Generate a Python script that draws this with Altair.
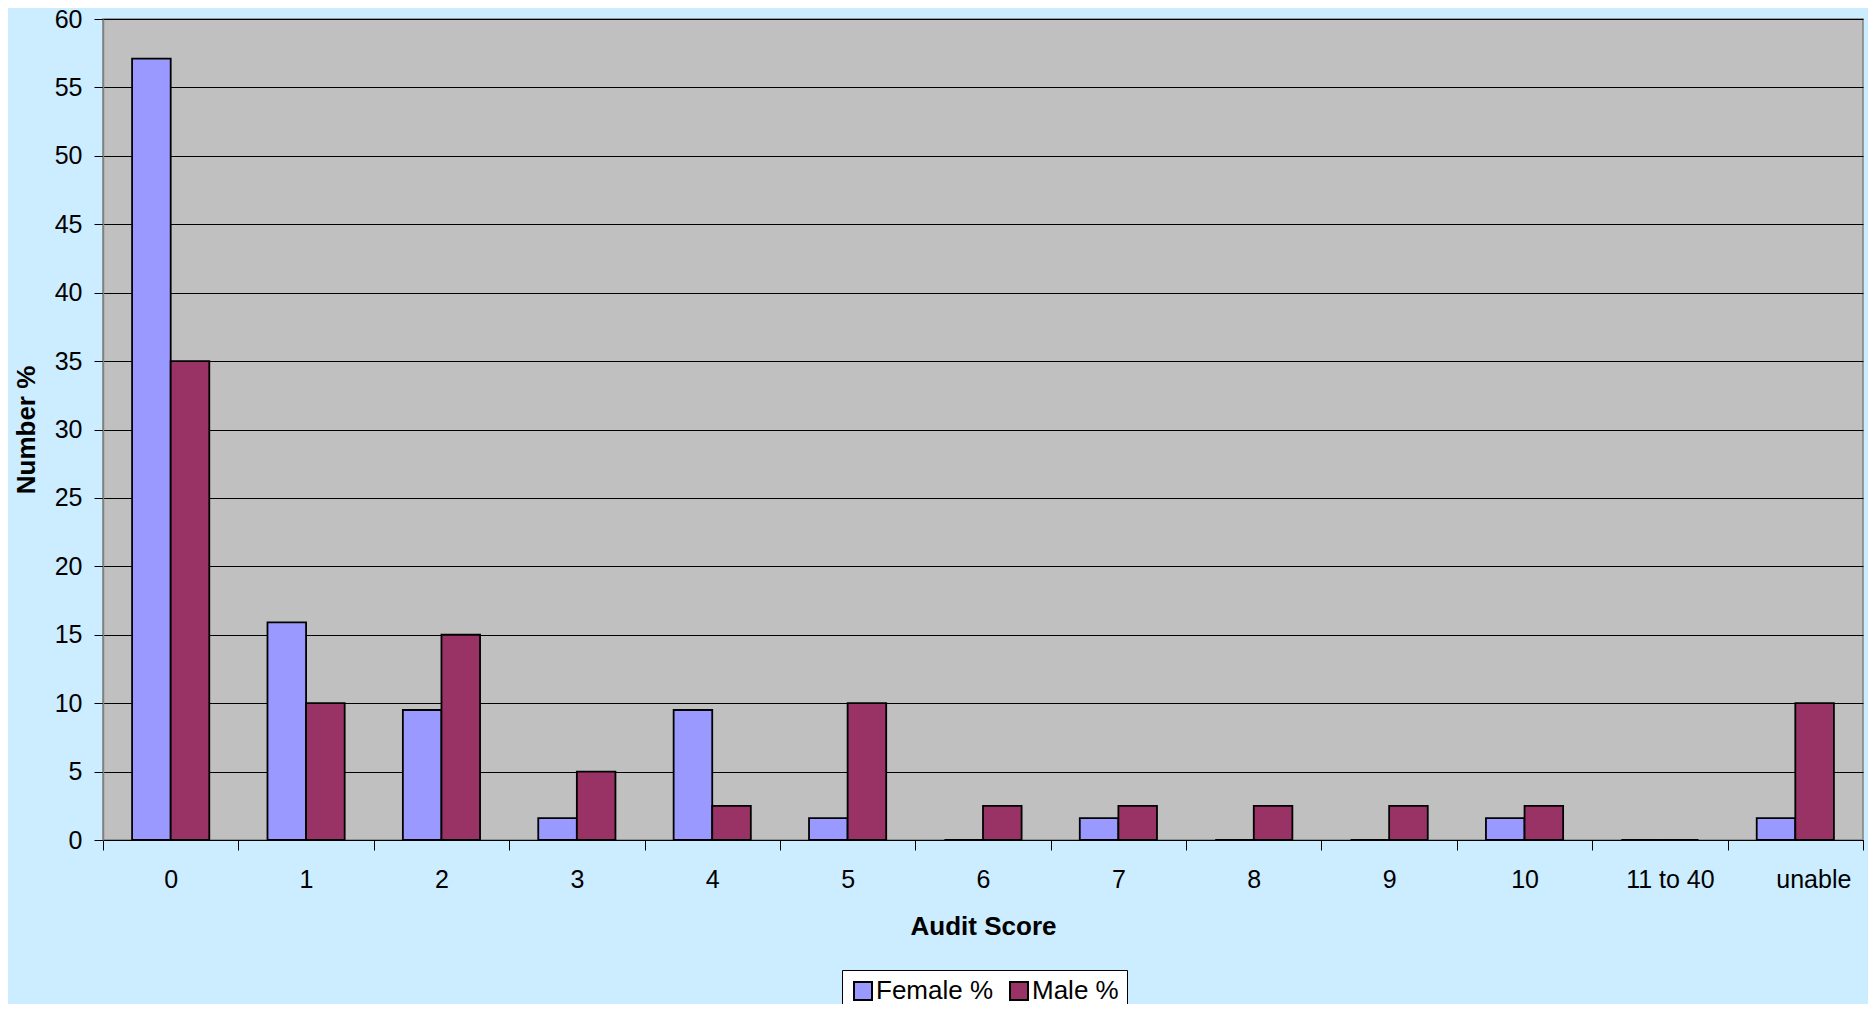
import altair as alt
import pandas as pd

categories = ["0", "1", "2", "3", "4", "5", "6", "7", "8", "9", "10", "11 to 40", "unable"]
female = [57.1, 15.9, 9.5, 1.6, 9.5, 1.6, 0, 1.6, 0, 0, 1.6, 0, 1.6]
male = [35, 10, 15, 5, 2.5, 10, 2.5, 2.5, 2.5, 2.5, 2.5, 0, 10]
series = ["Female %", "Male %"]
colors = ["#9999FF", "#993366"]

rows = []
for c, f, m in zip(categories, female, male):
    rows.append({"score": c, "series": series[0], "value": f})
    rows.append({"score": c, "series": series[1], "value": m})
df = pd.DataFrame(rows)

FONT = "Liberation Sans"

x_label_offset = {
    "condition": [
        {"test": "datum.value == 'unable'", "value": 18},
        {"test": "datum.value == '11 to 40'", "value": 10},
    ],
    "value": 0,
}

chart = alt.Chart(df).mark_bar(stroke="black", strokeWidth=1.8).encode(
    x=alt.X(
        "score:N", sort=categories, title="Audit Score",
        scale=alt.Scale(paddingInner=0, paddingOuter=0),
        axis=alt.Axis(
            labelAngle=0, tickBand="extent", tickSize=10, labelPadding=17,
            titlePadding=21, domainColor="black", tickColor="black",
            labelFontSize=25, titleFontSize=26, grid=False,
            labelColor="black", titleColor="black", titleFontWeight="bold",
            labelOffset=x_label_offset,
        ),
    ),
    xOffset=alt.XOffset(
        "series:N", sort=series,
        scale=alt.Scale(paddingOuter=0.754, paddingInner=0),
    ),
    y=alt.Y(
        "value:Q", title="Number %",
        scale=alt.Scale(domain=[0, 60], nice=False),
        axis=alt.Axis(
            values=list(range(0, 61, 5)), tickSize=9, labelPadding=12,
            titlePadding=15, gridColor="black", gridWidth=1, gridOpacity=1,
            domainColor="#808080", domainWidth=1.5, tickColor="black",
            labelFontSize=25, titleFontSize=26, labelColor="black",
            titleColor="black", titleFontWeight="bold",
        ),
    ),
    color=alt.Color(
        "series:N", sort=series,
        scale=alt.Scale(domain=series, range=colors),
        legend=alt.Legend(
            title=None, orient="none", legendX=739, legendY=951,
            direction="horizontal", fillColor="white", strokeColor="black",
            padding=8, symbolType="square", symbolSize=324,
            symbolStrokeColor="black", symbolStrokeWidth=2, symbolOpacity=1,
            labelFontSize=26, labelFont=FONT, labelOffset=0, columnPadding=12,
            labelColor="black",
        ),
    ),
).properties(
    width=1760, height=821, background="#CCECFF",
    padding={"left": 95, "top": 11, "right": 5, "bottom": 164},
    autosize=alt.AutoSizeParams(type="none"),
).configure_view(
    fill="#C0C0C0", stroke="#808080", strokeWidth=1.5
).configure_axis(
    labelFont=FONT, titleFont=FONT
)

chart.save("out.html", embed_options={"renderer": "svg", "actions": False})
